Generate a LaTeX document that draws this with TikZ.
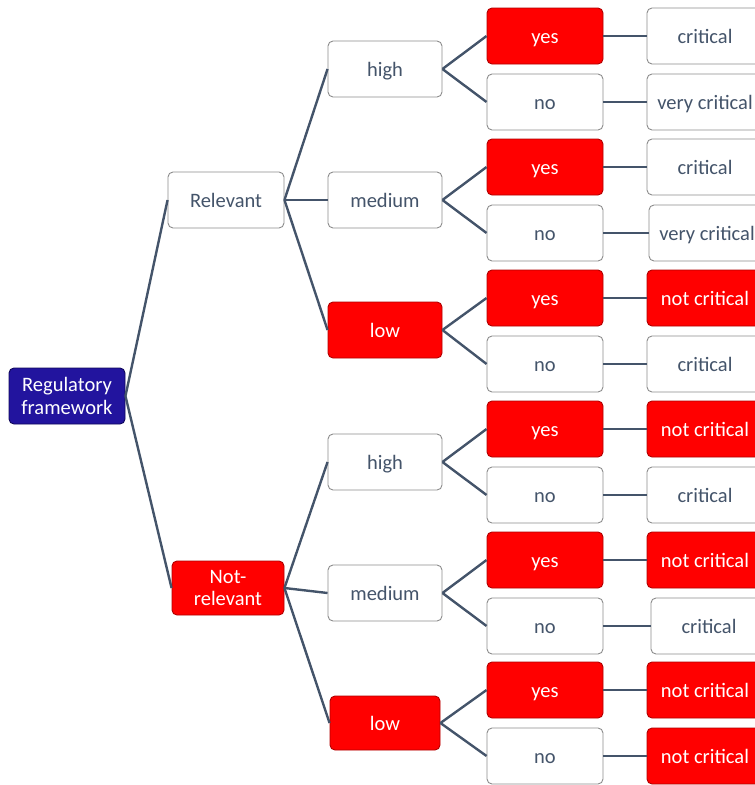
\documentclass[tikz,border=0pt]{standalone}
\usepackage{fontspec}
\setmainfont{Carlito}
\definecolor{slate}{HTML}{44546A}
\definecolor{edgegray}{HTML}{8C8C8C}
\definecolor{hotred}{HTML}{FF0000}
\definecolor{hotedge}{HTML}{B00000}
\definecolor{navy}{HTML}{22149E}
\definecolor{navyedge}{HTML}{10085A}
\tikzset{
  box/.style={rectangle, rounded corners=5pt, minimum width=116pt, minimum height=56pt,
    inner sep=2pt, align=center, line width=0.9pt,
    font=\fontsize{20.5}{22.5}\selectfont},
  oneline/.style={text height=17pt, text depth=3pt},
  plain/.style={box, oneline, draw=edgegray, fill=white, text=slate},
  hot/.style={box, oneline, draw=hotedge, fill=hotred, text=white},
  hottwo/.style={box, draw=hotedge, fill=hotred, text=white},
  rootbox/.style={box, draw=navyedge, fill=navy, text=white},
  link/.style={draw=slate, line width=2.4pt}
}
\begin{document}
\begin{tikzpicture}[x=1pt, y=-1pt]
\useasboundingbox (0,0) rectangle (755,785);
\clip (0,0) rectangle (755,785);

% root and first level
\node[rootbox] (root) at (67,396) {Regulatory\\framework};
\node[plain] (rel) at (226,200) {Relevant};
\node[hottwo, minimum width=112pt, minimum height=54pt] (notrel) at (228,588) {Not-\\relevant};

% second level
\node[plain, minimum width=114pt] (high1) at (385,69) {high};
\node[plain, minimum width=114pt] (med1) at (385,200) {medium};
\node[hot, minimum width=114pt] (low1) at (385,330) {low};
\node[plain, minimum width=114pt] (high2) at (385,462) {high};
\node[plain, minimum width=114pt] (med2) at (385,593) {medium};
\node[hot, minimum width=110pt, minimum height=54pt] (low2) at (385,723) {low};

% third level
\node[hot]   (y1) at (545,36)  {yes};
\node[plain] (n1) at (545,102) {no};
\node[hot]   (y2) at (545,167) {yes};
\node[plain] (n2) at (545,233) {no};
\node[hot]   (y3) at (545,298) {yes};
\node[plain] (n3) at (545,364) {no};
\node[hot]   (y4) at (545,429) {yes};
\node[plain] (n4) at (545,495) {no};
\node[hot]   (y5) at (545,560) {yes};
\node[plain] (n5) at (545,626) {no};
\node[hot]   (y6) at (545,690) {yes};
\node[plain] (n6) at (545,756) {no};

% outcomes
\node[plain] (ry1) at (705,36)  {critical};
\node[plain] (rn1) at (705,102) {very critical};
\node[plain] (ry2) at (705,167) {critical};
\node[plain] (rn2) at (707,233) {very critical};
\node[hot]   (ry3) at (705,298) {not critical};
\node[plain] (rn3) at (705,364) {critical};
\node[hot]   (ry4) at (705,429) {not critical};
\node[plain] (rn4) at (705,495) {critical};
\node[hot]   (ry5) at (705,560) {not critical};
\node[plain] (rn5) at (709,626) {critical};
\node[hot]   (ry6) at (705,690) {not critical};
\node[hot]   (rn6) at (705,756) {not critical};

% connectors
\draw[link] (root.east) -- (rel.west);
\draw[link] (root.east) -- (notrel.west);
\foreach \p/\a/\b/\c in {rel/high1/med1/low1, notrel/high2/med2/low2} {
  \draw[link] (\p.east) -- (\a.west);
  \draw[link] (\p.east) -- (\b.west);
  \draw[link] (\p.east) -- (\c.west);
}
\foreach \p/\a/\b in {high1/y1/n1, med1/y2/n2, low1/y3/n3, high2/y4/n4, med2/y5/n5, low2/y6/n6} {
  \draw[link] (\p.east) -- (\a.west);
  \draw[link] (\p.east) -- (\b.west);
}
\foreach \i in {1,...,6} {
  \draw[link] (y\i.east) -- (ry\i.west);
  \draw[link] (n\i.east) -- (rn\i.west);
}
\end{tikzpicture}
\end{document}
